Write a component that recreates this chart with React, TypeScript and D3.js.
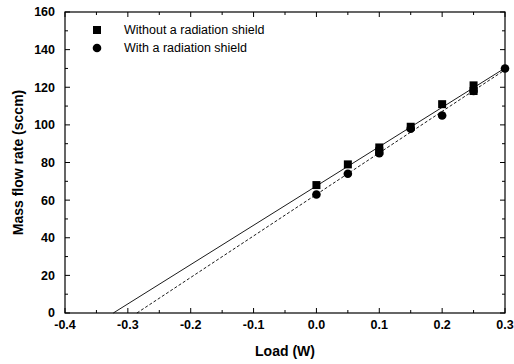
import React, { useRef, useEffect } from "react";
import * as d3 from "d3";

// Load (W) vs mass flow rate (sccm)
const noShieldLoad = [0, 0.05, 0.1, 0.1, 0.15, 0.2, 0.25, 0.25];
const noShieldFlow = [68, 79, 88, 86, 99, 111, 121, 118];
const shieldLoad = [0, 0.05, 0.1, 0.15, 0.2, 0.25, 0.3];
const shieldFlow = [63, 74, 85, 98, 105, 118, 130];
const xTicks = [-0.4, -0.3, -0.2, -0.1, 0, 0.1, 0.2, 0.3];
const yTicks = [0, 20, 40, 60, 80, 100, 120, 140, 160];
const legendLabels = ["Without a radiation shield", "With a radiation shield"];

function fit(xs: number[], ys: number[]) {
  const mx = d3.mean(xs)!;
  const my = d3.mean(ys)!;
  let sxy = 0;
  let sxx = 0;
  xs.forEach((x, i) => {
    sxy += (x - mx) * (ys[i] - my);
    sxx += (x - mx) * (x - mx);
  });
  const slope = sxy / sxx;
  return { slope, intercept: my - slope * mx };
}

export default function App() {
  const svgRef = useRef(null);
  const width = 514;
  const height = 364;

  useEffect(() => {
    const margin = { top: 12, right: 9, bottom: 51, left: 65 };
    const w = width - margin.left - margin.right;
    const h = height - margin.top - margin.bottom;
    const font = "Liberation Sans, Arial, sans-serif";

    const svg = d3.select(svgRef.current);
    svg.selectAll("*").remove();
    svg.attr("width", width).attr("height", height);

    const g = svg.append("g").attr("transform", `translate(${margin.left},${margin.top})`);

    const x = d3.scaleLinear().domain([-0.4, 0.3]).range([0, w]);
    const y = d3.scaleLinear().domain([0, 160]).range([h, 0]);

    // frame
    g.append("rect")
      .attr("width", w)
      .attr("height", h)
      .attr("fill", "none")
      .attr("stroke", "#000")
      .attr("stroke-width", 1.2);

    // ticks inward on all four sides
    const xMinor = d3.range(-0.4, 0.3001, 0.05);
    const yMinor = d3.range(0, 160.01, 10);
    const tickG = g.append("g").attr("stroke", "#000").attr("stroke-width", 1);
    xMinor.forEach((v, i) => {
      const len = i % 2 === 0 ? 5 : 3;
      tickG.append("line").attr("x1", x(v)).attr("x2", x(v)).attr("y1", h).attr("y2", h - len);
      tickG.append("line").attr("x1", x(v)).attr("x2", x(v)).attr("y1", 0).attr("y2", len);
    });
    yMinor.forEach((v, i) => {
      const len = i % 2 === 0 ? 5 : 3;
      tickG.append("line").attr("x1", 0).attr("x2", len).attr("y1", y(v)).attr("y2", y(v));
      tickG.append("line").attr("x1", w).attr("x2", w - len).attr("y1", y(v)).attr("y2", y(v));
    });

    // tick labels
    g.append("g")
      .selectAll("text")
      .data(xTicks)
      .join("text")
      .attr("x", (d) => x(d))
      .attr("y", h + 16)
      .attr("text-anchor", "middle")
      .style("font-family", font)
      .style("font-weight", "bold")
      .style("font-size", "12.5px")
      .text((d) => d.toFixed(1));

    g.append("g")
      .selectAll("text")
      .data(yTicks)
      .join("text")
      .attr("x", -10)
      .attr("y", (d) => y(d))
      .attr("dy", "0.35em")
      .attr("text-anchor", "end")
      .style("font-family", font)
      .style("font-weight", "bold")
      .style("font-size", "12.5px")
      .text((d) => d);

    // axis titles
    g.append("text")
      .attr("x", w / 2)
      .attr("y", h + 43)
      .attr("text-anchor", "middle")
      .style("font-family", font)
      .style("font-weight", "bold")
      .style("font-size", "14px")
      .text("Load (W)");

    g.append("text")
      .attr("transform", `translate(${-42},${h / 2}) rotate(-90)`)
      .attr("text-anchor", "middle")
      .style("font-family", font)
      .style("font-weight", "bold")
      .style("font-size", "14px")
      .text("Mass flow rate (sccm)");

    // fit lines from x-intercept to 0.3
    const fits = [fit(noShieldLoad, noShieldFlow), fit(shieldLoad, shieldFlow)];
    fits.forEach((f, i) => {
      const x0 = -f.intercept / f.slope;
      const pts: [number, number][] = [
        [x0, 0],
        [0.3, f.intercept + f.slope * 0.3],
      ];
      g.append("path")
        .attr("d", d3.line().x((d) => x(d[0])).y((d) => y(d[1]))(pts))
        .attr("fill", "none")
        .attr("stroke", "#000")
        .attr("stroke-width", 0.9)
        .attr("stroke-dasharray", i === 0 ? null : "3,2");
    });

    // points
    g.append("g")
      .selectAll("rect")
      .data(noShieldLoad.map((v, i) => [v, noShieldFlow[i]]))
      .join("rect")
      .attr("x", (d) => x(d[0]) - 4)
      .attr("y", (d) => y(d[1]) - 4)
      .attr("width", 8)
      .attr("height", 8)
      .attr("fill", "#000");

    g.append("g")
      .selectAll("circle")
      .data(shieldLoad.map((v, i) => [v, shieldFlow[i]]))
      .join("circle")
      .attr("cx", (d) => x(d[0]))
      .attr("cy", (d) => y(d[1]))
      .attr("r", 4.3)
      .attr("fill", "#000");

    // legend
    const legend = g.append("g").attr("transform", "translate(32,18)");
    legend.append("rect").attr("x", -4).attr("y", -4).attr("width", 8).attr("height", 8).attr("fill", "#000");
    legend.append("circle").attr("cx", 0).attr("cy", 18).attr("r", 4.3).attr("fill", "#000");
    legend
      .selectAll("text")
      .data(legendLabels)
      .join("text")
      .attr("x", 27)
      .attr("y", (d, i) => i * 18)
      .attr("dy", "0.35em")
      .style("font-family", font)
      .style("font-size", "12.5px")
      .text((d) => d);
  }, []);

  return (
    <svg
      ref={svgRef}
      style={{ position: "absolute", left: 0, top: 0, background: "#fff" }}
    ></svg>
  );
}
